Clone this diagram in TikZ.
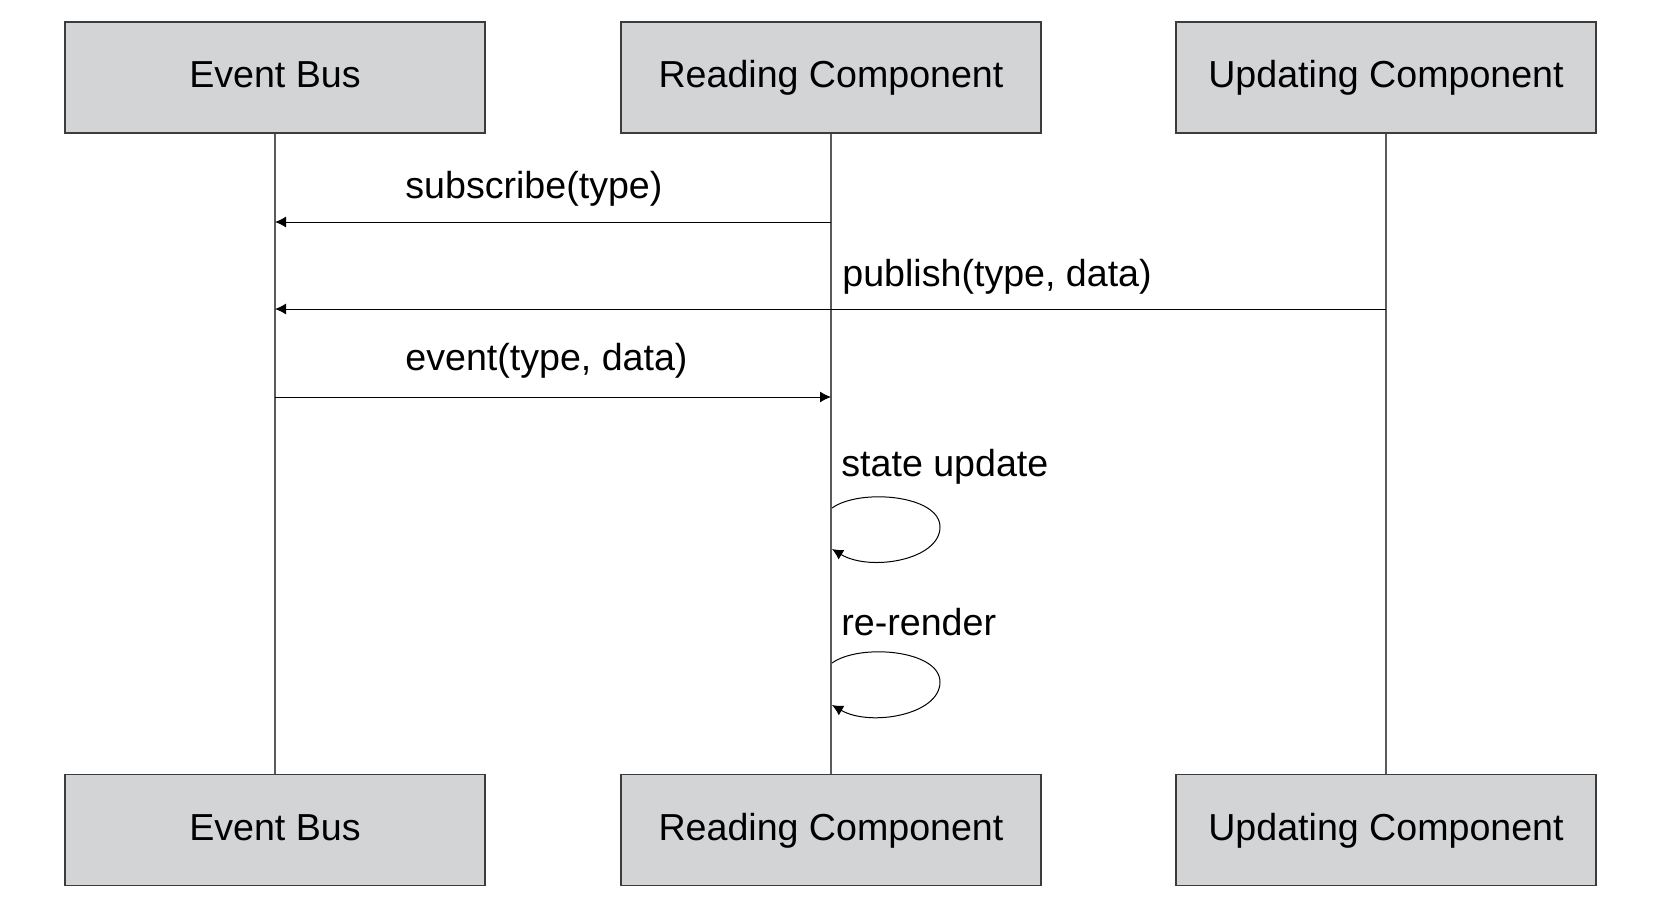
\documentclass[tikz,border=0pt]{standalone}
\usepackage{fontspec}
\setmainfont{Liberation Sans}
\usetikzlibrary{arrows.meta}
\definecolor{boxfill}{RGB}{211,212,214}
\definecolor{boxline}{RGB}{60,60,60}
\definecolor{lifeline}{RGB}{90,90,90}
\begin{document}
\begin{tikzpicture}[x=0.5pt,y=-0.5pt,
  actor/.style={draw=boxline,line width=0.7pt,fill=boxfill,minimum width=210pt,minimum height=55.5pt,inner sep=0pt,text height=14pt,text depth=4pt,font=\fontsize{18.8}{22}\selectfont},
  life/.style={draw=lifeline,line width=0.7pt},
  msg/.style={draw=black,line width=0.5pt,-{Latex[length=5.5pt,width=5.5pt]}},
  lbl/.style={anchor=base west,inner sep=0pt,font=\fontsize{18.8}{22}\selectfont}]
\useasboundingbox (0,0) rectangle (1665,905);
\fill[white] (0,0) rectangle (1665,905);
% top boxes
\node[actor] (ebT) at (275,77.5) {Event Bus};
\node[actor] (rcT) at (831,77.5) {Reading Component};
\node[actor] (ucT) at (1386,77.5) {Updating Component};
% bottom boxes
\node[actor] (ebB) at (275,830) {Event Bus};
\node[actor] (rcB) at (831,830) {Reading Component};
\node[actor] (ucB) at (1386,830) {Updating Component};
% lifelines
\draw[life] (ebT.south) -- (ebB.north);
\draw[life] (rcT.south) -- (rcB.north);
\draw[life] (ucT.south) -- (ucB.north);
% message coordinates
\coordinate (s1) at (831,222);
\coordinate (s0) at (275,222);
\coordinate (p1) at (1386,309);
\coordinate (p0) at (275,309);
\coordinate (e0) at (275,397);
\coordinate (e1) at (831,397);
\draw[msg] (s1) -- (s0);
\draw[msg] (p1) -- (p0);
\draw[msg] (e0) -- (e1);
\node[lbl] (ls) at (405,198) {subscribe(type)};
\node[lbl] (lp) at (842,286) {publish(type, data)};
\node[lbl] (le) at (405,370) {event(type, data)};
\node[lbl] (lsu) at (841,476) {state update};
\node[lbl] (lrr) at (841,635) {re-render};
% self loops
\coordinate (a0) at (832,508);
\coordinate (a1) at (832,549);
\draw[msg] (a0) .. controls (860,488) and (940,495) .. (940,527)
  .. controls (940,560) and (870,572) .. (a1);
\coordinate (b0) at (832,663);
\coordinate (b1) at (832,705);
\draw[msg] (b0) .. controls (860,643) and (940,650) .. (940,682)
  .. controls (940,715) and (870,727) .. (b1);
\end{tikzpicture}
\end{document}
